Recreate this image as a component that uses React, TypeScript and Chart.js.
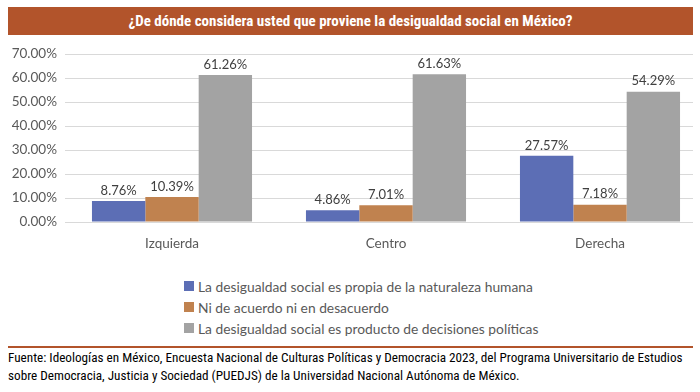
import React, { useEffect, useRef } from 'react';
import { Chart, registerables } from 'chart.js';

Chart.register(...registerables);

const titleText = '¿De dónde considera usted que proviene la desigualdad social en México?';
const categories = ['Izquierda', 'Centro', 'Derecha'];
const seriesLabels = [
  'La desigualdad social es propia de la naturaleza humana',
  'Ni de acuerdo ni en desacuerdo',
  'La desigualdad social es producto de decisiones políticas',
];
const naturalezaHumana = [8.76, 4.86, 27.57];
const niAcuerdo = [10.39, 7.01, 7.18];
const decisionesPoliticas = [61.26, 61.63, 54.29];
const seriesValues = [naturalezaHumana, niAcuerdo, decisionesPoliticas];
const seriesColors = ['#5C6EB5', '#C0824F', '#A3A3A3'];
const yMin = 0;
const yMax = 70;
const yStep = 10;
const footerLines = [
  'Fuente: Ideologías en México, Encuesta Nacional de Culturas Políticas y Democracia 2023, del Programa Universitario de Estudios',
  'sobre Democracia, Justicia y Sociedad (PUEDJS) de la Universidad Nacional Autónoma de México.',
];

const RUST = '#B2542B';
const FONT = 'Lato, "Open Sans", sans-serif';
const NARROW = '"Liberation Sans Narrow", "Roboto Condensed", Roboto, sans-serif';

const fmt = (v: number) => v.toFixed(2) + '%';

const valueLabels = {
  id: 'valueLabels',
  afterDatasetsDraw(chart: any) {
    const ctx = chart.ctx;
    ctx.save();
    ctx.font = '13px ' + FONT;
    ctx.fillStyle = '#404040';
    ctx.textAlign = 'center';
    ctx.textBaseline = 'bottom';
    chart.data.datasets.forEach((ds: any, i: number) => {
      const meta = chart.getDatasetMeta(i);
      meta.data.forEach((el: any, j: number) => {
        ctx.fillText(fmt(ds.data[j]), el.x, el.y - 4);
      });
    });
    ctx.restore();
  },
};

export default function App() {
  const canvasRef = useRef<HTMLCanvasElement | null>(null);

  useEffect(() => {
    if (!canvasRef.current) return;
    const chart = new Chart(canvasRef.current, {
      type: 'bar',
      data: {
        labels: categories,
        datasets: seriesValues.map((vals, i) => ({
          label: seriesLabels[i],
          data: vals,
          backgroundColor: seriesColors[i],
          borderWidth: 0,
          barPercentage: 1,
          categoryPercentage: 0.748,
        })),
      },
      options: {
        responsive: false,
        animation: false,
        devicePixelRatio: 1,
        layout: { padding: { top: 11, left: 0, right: 0, bottom: 0 } },
        plugins: {
          legend: { display: false },
          tooltip: { enabled: false },
          title: { display: false },
        },
        scales: {
          x: {
            grid: { display: false, drawTicks: false },
            border: { display: false },
            ticks: {
              color: '#595959',
              font: { family: FONT, size: 13.5 },
              padding: 14,
            },
            afterFit: (s: any) => {
              s.height = 40;
            },
          },
          y: {
            min: yMin,
            max: yMax,
            grid: { color: '#D9D9D9', lineWidth: 1, drawTicks: false },
            border: { display: false },
            ticks: {
              stepSize: yStep,
              color: '#595959',
              font: { family: FONT, size: 13.5 },
              padding: 8,
              callback: (v: any) => fmt(Number(v)),
            },
            afterFit: (s: any) => {
              s.width = 65;
            },
          },
        },
      },
      plugins: [valueLabels],
    });
    return () => chart.destroy();
  }, []);

  return (
    <div
      style={{
        position: 'absolute',
        left: 0,
        top: 0,
        width: 700,
        height: 392,
        overflow: 'hidden',
        background: '#fff',
      }}
    >
      <div
        style={{
          position: 'absolute',
          left: 8,
          top: 7,
          width: 685,
          height: 28,
          background: RUST,
          color: '#fff',
          fontFamily: NARROW,
          fontWeight: 'bold',
          fontSize: 15,
          lineHeight: '28px',
          textAlign: 'center',
        }}
      >
        {titleText}
      </div>
      <div style={{ position: 'absolute', left: 0, top: 38, width: 693, height: 224, overflow: 'hidden' }}>
        <canvas ref={canvasRef} width={707} height={224} style={{ display: 'block', width: 707, height: 224 }} />
      </div>
      {seriesLabels.map((lab, i) => (
        <div
          key={lab}
          style={{
            position: 'absolute',
            left: 184,
            top: 276 + i * 21,
            height: 20,
            display: 'flex',
            alignItems: 'center',
            fontFamily: FONT,
            fontSize: 13.8,
            color: '#595959',
            whiteSpace: 'nowrap',
          }}
        >
          <span style={{ display: 'inline-block', width: 10, height: 10, background: seriesColors[i], marginRight: 4 }} />
          <span>{lab}</span>
        </div>
      ))}
      <div style={{ position: 'absolute', left: 8, top: 346, width: 685, height: 2, background: RUST }} />
      {footerLines.map((line, i) => (
        <div
          key={i}
          style={{
            position: 'absolute',
            left: 8,
            top: 350 + i * 18,
            fontFamily: NARROW,
            fontSize: 13.2,
            lineHeight: '16px',
            color: '#000',
            whiteSpace: 'nowrap',
          }}
        >
          {line}
        </div>
      ))}
    </div>
  );
}
